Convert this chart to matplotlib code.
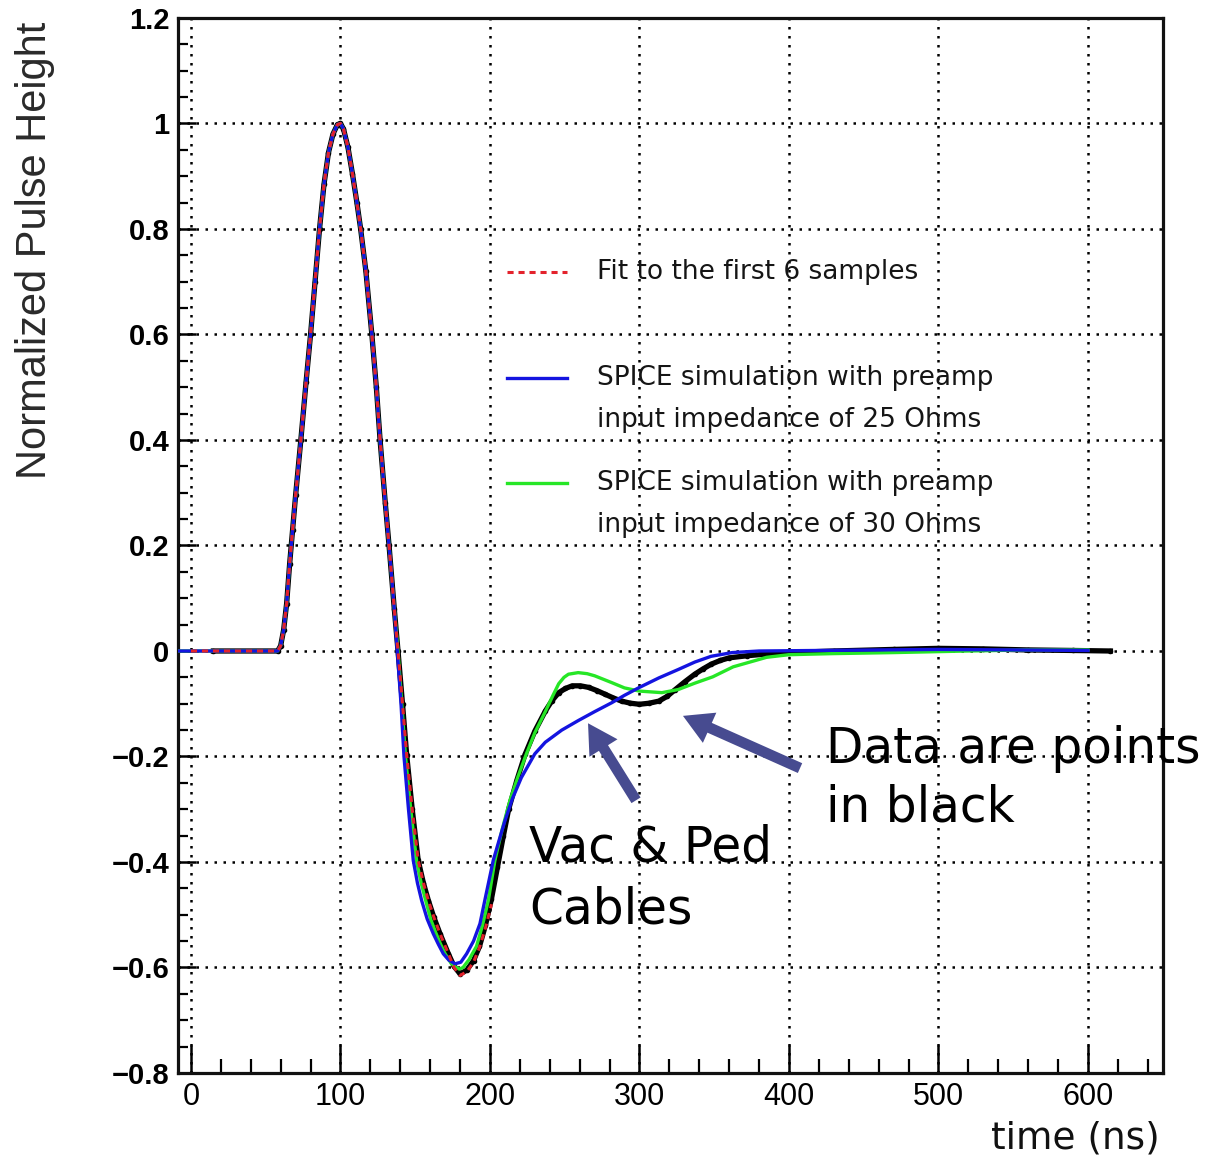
import matplotlib
matplotlib.use('Agg')
import matplotlib.pyplot as plt
from matplotlib.ticker import MultipleLocator

# shared pulse shape (all curves sit on top of each other here)
peak_t = [58, 60, 62, 64, 66, 68, 70, 73.5, 77, 80, 83, 86, 89, 92, 95, 98,
          100, 102, 105, 108, 111, 113.5, 117, 121, 124, 126.5, 130, 132.5, 136]
peak_v = [0.0, 0.01, 0.04, 0.09, 0.165, 0.23, 0.295, 0.40, 0.51, 0.60, 0.70,
          0.80, 0.885, 0.945, 0.98, 0.998, 1.0, 0.99, 0.955, 0.905, 0.85, 0.80,
          0.72, 0.60, 0.50, 0.40, 0.28, 0.20, 0.08]

# measured pulse (black points)
data_tail_t = [138.5, 141.5, 144.3, 148, 152, 155.5, 158.8, 162.5, 166.6, 172.2,
               176, 180, 184.5, 189, 193, 197, 201, 205, 209, 212.5, 218, 223.5,
               230, 237, 241.5, 246, 250.5, 255, 260.5, 266, 271.5, 277, 282.5,
               288, 294, 300, 306.5, 313, 318.5, 324, 330.5, 337, 342.5, 348,
               354, 360, 372, 384, 400, 430, 470, 500, 530, 560, 590, 615]
data_tail_v = [0.0, -0.10, -0.197, -0.30, -0.397, -0.44, -0.473, -0.505, -0.536,
               -0.574, -0.598, -0.612, -0.605, -0.587, -0.56, -0.52, -0.47, -0.41,
               -0.35, -0.30, -0.245, -0.196, -0.152, -0.114, -0.094, -0.079,
               -0.071, -0.066, -0.066, -0.069, -0.075, -0.082, -0.089, -0.095,
               -0.099, -0.101, -0.099, -0.095, -0.086, -0.073, -0.058, -0.044,
               -0.034, -0.025, -0.018, -0.013, -0.009, -0.006, -0.003, 0.0,
               0.003, 0.005, 0.004, 0.002, 0.001, 0.0]

# fit to the first 6 samples (red dashed)
fit_tail_t = [138.5, 141.5, 144.3, 148, 152, 155.5, 158.8, 162.5, 166.6, 172.2,
              176, 180, 184.5, 189, 193, 197, 201]
fit_tail_v = [0.0, -0.10, -0.197, -0.30, -0.397, -0.44, -0.473, -0.505, -0.536,
              -0.574, -0.600, -0.615, -0.608, -0.59, -0.562, -0.525, -0.48]

# SPICE, 25 Ohm (blue)
spice25_tail_t = [138, 140.5, 142.5, 145.5, 148.7, 151.5, 154.3, 158, 162.1, 165.5,
                  168.8, 172.5, 176.6, 180.5, 184.4, 189, 193.3, 197.5, 202.2, 206,
                  210, 215, 221, 230, 237, 248, 259, 270, 281.5, 290, 300, 313,
                  326, 337, 348, 362, 380, 420, 460, 500, 550, 600]
spice25_tail_v = [0.0, -0.10, -0.20, -0.30, -0.397, -0.44, -0.473, -0.508, -0.536,
                  -0.556, -0.574, -0.586, -0.593, -0.59, -0.574, -0.55, -0.517,
                  -0.46, -0.397, -0.36, -0.322, -0.28, -0.24, -0.195, -0.173,
                  -0.15, -0.132, -0.115, -0.098, -0.084, -0.069, -0.051, -0.035,
                  -0.021, -0.01, -0.003, 0.0, 0.001, 0.002, 0.003, 0.002, 0.001]

# SPICE, 30 Ohm (green)
spice30_tail_t = [138.5, 141, 143.5, 147, 151, 154, 157, 160.5, 164, 167, 170, 174,
                  177.5, 179.5, 182, 186, 191, 195, 198.9, 203.3, 208, 213.4, 218.5,
                  224.5, 230, 237, 242, 246, 249.5, 252.5, 259, 265, 270, 281.5,
                  290, 300, 315, 326, 337, 349, 362.7, 385, 400, 429, 470, 520,
                  560, 600]
spice30_tail_v = [0.0, -0.10, -0.20, -0.30, -0.40, -0.44, -0.473, -0.51, -0.536,
                  -0.556, -0.574, -0.592, -0.60, -0.603, -0.60, -0.585, -0.56, -0.52,
                  -0.473, -0.397, -0.34, -0.283, -0.24, -0.194, -0.155, -0.115,
                  -0.085, -0.062, -0.05, -0.044, -0.041, -0.043, -0.047, -0.06,
                  -0.07, -0.076, -0.079, -0.073, -0.061, -0.049, -0.03, -0.012,
                  -0.007, -0.005, -0.003, 0.0, 0.002, 0.002]

legend_labels = ["Fit to the first 6 samples",
                 "SPICE simulation with preamp\ninput impedance of 25 Ohms",
                 "SPICE simulation with preamp\ninput impedance of 30 Ohms"]

RED = '#e3222c'
BLUE = '#1414e0'
GREEN = '#26e626'
ARROW = '#474b90'

XMIN, XMAX = -8.7, 650.2
YMIN, YMAX = -0.8, 1.2

SANS = ['Liberation Sans', 'DejaVu Sans']


def main():
    fig = plt.figure(figsize=(12.13, 11.61), dpi=100)
    ax = fig.add_axes([0.1467, 0.0758, 0.8121, 0.9087])

    data_t = [15] + peak_t + data_tail_t
    data_v = [0.0] + peak_v + data_tail_v
    fit_t = [0] + peak_t + fit_tail_t
    fit_v = [0.0] + peak_v + fit_tail_v
    s25_t = [XMIN] + peak_t + spice25_tail_t
    s25_v = [0.0] + peak_v + spice25_tail_v
    s30_t = [XMIN] + peak_t + spice30_tail_t
    s30_v = [0.0] + peak_v + spice30_tail_v

    ax.plot(data_t, data_v, color='black', lw=3.8, marker='o', ms=3, zorder=3)
    ax.plot(s30_t, s30_v, color=GREEN, lw=2.4, zorder=4)
    ax.plot(s25_t, s25_v, color=BLUE, lw=2.4, zorder=5)
    ax.plot(fit_t, fit_v, color=RED, lw=2.2, ls=(0, (2, 1.6)), zorder=6)

    ax.set_xlim(XMIN, XMAX)
    ax.set_ylim(YMIN, YMAX)

    ax.xaxis.set_major_locator(MultipleLocator(100))
    ax.xaxis.set_minor_locator(MultipleLocator(20))
    ax.yaxis.set_major_locator(MultipleLocator(0.2))
    ax.yaxis.set_minor_locator(MultipleLocator(0.05))
    ax.yaxis.set_major_formatter(plt.FuncFormatter(
        lambda v, p: ('%g' % round(v, 2)).replace('-', '\u2212')))

    ax.tick_params(axis='x', which='major', direction='in', length=20, width=1.8,
                   pad=6.5, labelsize=22, labelfontfamily=SANS)
    ax.tick_params(axis='x', which='minor', direction='in', length=10, width=1.6)
    ax.tick_params(axis='y', which='major', direction='in', length=13, width=1.8,
                   pad=6, labelsize=21, labelfontfamily=SANS)
    ax.tick_params(axis='y', which='minor', direction='in', length=7, width=1.6)
    for lab in ax.get_yticklabels():
        lab.set_fontweight('bold')

    ax.grid(True, which='major', color='black', lw=1.8, ls=(0, (1, 2.6)))
    ax.set_axisbelow(True)
    for sp in ax.spines.values():
        sp.set_linewidth(2.3)
        sp.set_color('#111111')

    # axis titles (ROOT style: at the ends of the axes)
    fig.text(0.0289, 0.981, "Normalized Pulse Height", rotation=90,
             ha='center', va='top', fontsize=30, color='#2a2a2a', family=SANS)
    fig.text(0.9563, 0.0198, "time (ns)", ha='right', va='center',
             fontsize=27, color='#111111')

    # legend drawn by hand, keys aligned with the first text line
    key_x = [0.334, 0.395]
    text_x = 0.425
    rows_y = [0.759, 0.659, 0.559]
    line_gap = 0.0398
    styles = [dict(color=RED, lw=2.2, ls=(0, (2, 1.6))),
              dict(color=BLUE, lw=2.4),
              dict(color=GREEN, lw=2.4)]
    for y, lab, st in zip(rows_y, legend_labels, styles):
        ax.plot(key_x, [y, y], transform=ax.transAxes, zorder=7, **st)
        for i, line in enumerate(lab.split('\n')):
            ax.text(text_x, y - i * line_gap, line, transform=ax.transAxes,
                    ha='left', va='center', fontsize=19, color='#151515')

    # hand written notes and arrows
    note_kw = dict(fontsize=35, color='black', ha='left', va='center')
    ax.text(425.0, -0.241, "Data are points\nin black", clip_on=False,
            linespacing=1.29, **note_kw)
    ax.text(226.0, -0.432, "Vac & Ped\nCables", linespacing=1.37, **note_kw)

    arrow_kw = dict(arrowstyle='simple,head_width=1.7,head_length=1.5,tail_width=0.55',
                    color=ARROW, lw=0, mutation_scale=14, shrinkA=0, shrinkB=0)
    ax.annotate('', xy=(265.6, -0.137), xytext=(297.7, -0.283),
                arrowprops=arrow_kw, zorder=8)
    ax.annotate('', xy=(329.1, -0.123), xytext=(407.4, -0.222),
                arrowprops=arrow_kw, zorder=8)

    fig.savefig('out.png', dpi=100, facecolor='white')


if __name__ == "__main__":
    main()
